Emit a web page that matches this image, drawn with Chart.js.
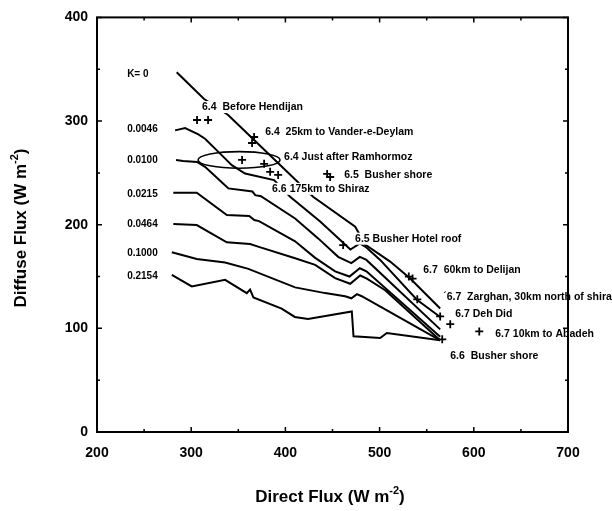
<!DOCTYPE html>
<html>
<head>
<meta charset="utf-8">
<script src="https://cdn.jsdelivr.net/npm/chart.js@4"></script>
<style>
  html, body { margin: 0; padding: 0; background: #fff; }
  canvas { display: block; }
</style>
</head>
<body>
<canvas id="fluxChart" width="612" height="511"></canvas>
<script>
// K label text and where it sits (direct, diffuse)
const kLabels = ['K= 0', '0.0046', '0.0100', '0.0215', '0.0464', '0.1000', '0.2154'];
const kLabelPos = [[232, 345], [232, 292], [232, 262.5], [232, 229], [232, 200], [232, 172], [232, 150]];

// model curves, [direct, diffuse] in W m-2
const curveK0 = [[284.6, 347], [313.7, 321.2], [339.2, 305.8], [366.8, 281.7], [429.4, 226.9],
  [474.1, 198.1], [484.7, 180.8], [511.2, 164.4], [532.5, 148.1], [564.3, 119.2]];
const curveK0046 = [[282.9, 291], [293.5, 293.3], [307.6, 287.2], [314.7, 283], [330.7, 268.6],
  [343.1, 257.4], [357.2, 249.3], [388, 243], [405, 227], [436.9, 203], [459.9, 183.7],
  [469, 176], [479, 182], [486, 178], [500.6, 166], [539.6, 127.6], [564.3, 111]];
const curveK0100 = [[283.9, 262.5], [291.4, 261.5], [306.2, 260.6], [314.7, 255.8], [333, 240.5],
  [339.5, 235], [365, 232], [368, 228.5], [374, 227.5], [410.3, 206], [434.8, 186.8],
  [456, 169], [470, 163], [479, 169], [486, 166], [564.3, 99]];
const curveK0215 = [[281, 230.8], [305.9, 230.8], [337.8, 209.3], [361.6, 208.4], [367, 204.5],
  [372, 203.5], [410.3, 184], [431.6, 168], [452.8, 155], [468, 150], [479, 158], [486, 155],
  [564.3, 92]];
const curveK0464 = [[281, 200.7], [305.9, 199.7], [337.8, 183], [362.5, 181.4], [371, 178.8],
  [410.3, 167.6], [431.6, 161.3], [452.8, 148.4], [468.8, 143], [479.4, 151], [486.5, 148],
  [505.9, 136.8], [564.3, 88.5]];
const curveK1000 = [[279.4, 173.4], [305.9, 167], [336, 163.5], [360.7, 157.4], [410.3, 139.5],
  [442.2, 134], [463.4, 131], [470, 129], [476, 133], [481, 131], [564.3, 88.5]];
const curveK2154 = [[279.4, 151.6], [300.6, 140.4], [336, 146.8], [359, 134], [362.5, 137.5],
  [366, 129.8], [396, 119], [410, 111], [424, 109], [470.5, 116.3], [472.3, 92.3],
  [500.6, 90.7], [507.7, 95.5], [564.3, 88.5]];

// measured fluxes along the route
const sites = [[306.2, 301], [317.9, 301], [366.8, 284.6], [364.6, 278.8], [354, 262.5],
  [377.4, 258.7], [383.8, 251], [392.3, 248], [444.3, 249], [447.5, 246], [461.3, 180.3],
  [531, 150], [535, 148], [540, 128], [564.3, 111.5], [575, 104], [605.8, 97], [566.5, 89.4]];

const siteLabels = ['6.4  Before Hendijan', '6.4  25km to Vander-e-Deylam', '6.4 Just after Ramhormoz',
  '6.5  Busher shore', '6.6 175km to Shiraz', '6.5 Busher Hotel roof', '6.7  60km to Delijan',
  '\u02CA6.7  Zarghan, 30km north of shiraz', '6.7 Deh Did', '6.7 10km to Abadeh', '6.6  Busher shore'];
const siteLabelPos = [[311.5, 313.5], [378.5, 289.4], [398.6, 265.4], [462.4, 248], [385.9, 234.6],
  [474, 186.5], [546.3, 155.8], [567.5, 129.8], [580.3, 113.5], [622.8, 94.2], [575, 73.1]];

// ellipse round the Ramhormoz points: centre x, centre y, half-width, half-height
const ringShape = [350.8, 262.5, 43.5, 8];

const xTicks = [200, 300, 400, 500, 600, 700];
const yTicks = [0, 100, 200, 300, 400];
const xMinor = [250, 350, 450, 550, 650];
const yMinor = [50, 150, 250, 350];

const LABEL_FONT = 'bold 10.5px "Liberation Sans", Arial, sans-serif';
const K_FONT = 'bold 10px "Liberation Sans", Arial, sans-serif';
const TITLE_FONT = 'bold 17px "Liberation Sans", Arial, sans-serif';
const SUP_FONT = 'bold 11px "Liberation Sans", Arial, sans-serif';

function toPoints(arr) {
  return arr.map(p => ({ x: p[0], y: p[1] }));
}

const curves = [curveK0, curveK0046, curveK0100, curveK0215, curveK0464, curveK1000, curveK2154];

const datasets = [{
  label: 'sites',
  data: toPoints(sites),
  showLine: false,
  pointStyle: 'cross',
  pointRadius: 4,
  borderWidth: 1.8,
  borderColor: '#000'
}];
curves.forEach((c, i) => {
  datasets.push({
    label: kLabels[i],
    data: toPoints(c),
    showLine: true,
    pointRadius: 0,
    borderWidth: 2,
    borderColor: '#000',
    tension: 0
  });
});

// text with a raised "-2"
function drawUnitTitle(ctx, head, sup, tail, cx, cy, rotate) {
  ctx.save();
  ctx.translate(cx, cy);
  if (rotate) ctx.rotate(-Math.PI / 2);
  ctx.fillStyle = '#000';
  ctx.textBaseline = 'middle';
  ctx.textAlign = 'left';
  ctx.font = TITLE_FONT;
  const w1 = ctx.measureText(head).width;
  const w3 = ctx.measureText(tail).width;
  ctx.font = SUP_FONT;
  const w2 = ctx.measureText(sup).width;
  let x = -(w1 + w2 + w3) / 2;
  ctx.font = TITLE_FONT;
  ctx.fillText(head, x, 0);
  x += w1;
  ctx.font = SUP_FONT;
  ctx.fillText(sup, x, -6);
  x += w2;
  ctx.font = TITLE_FONT;
  ctx.fillText(tail, x, 0);
  ctx.restore();
}

const annotations = {
  id: 'annotations',
  afterDatasetDraw(chart, args) {
    if (args.index !== 1) return;
    const { ctx, scales: { x, y } } = chart;
    ctx.save();

    // ellipse
    const [ex, ey, rx, ry] = ringShape;
    const cx = x.getPixelForValue(ex), cy = y.getPixelForValue(ey);
    const pw = x.getPixelForValue(ex + rx) - cx;
    const ph = cy - y.getPixelForValue(ey + ry);
    ctx.beginPath();
    ctx.ellipse(cx, cy, pw, ph, 0, 0, Math.PI * 2);
    ctx.lineWidth = 1.6;
    ctx.strokeStyle = '#000';
    ctx.stroke();

    ctx.textBaseline = 'middle';
    ctx.textAlign = 'left';
    const put = (text, pos, box) => {
      const px = x.getPixelForValue(pos[0]);
      const py = y.getPixelForValue(pos[1]);
      if (box) {
        const w = ctx.measureText(text).width;
        ctx.fillStyle = '#fff';
        ctx.fillRect(px - 1, py - 6, w + 2, 12);
      }
      ctx.fillStyle = '#000';
      ctx.fillText(text, px, py);
    };
    ctx.font = K_FONT;
    kLabels.forEach((t, i) => put(t, kLabelPos[i], false));
    ctx.font = LABEL_FONT;
    siteLabels.forEach((t, i) => put(t, siteLabelPos[i], true));
    ctx.restore();
  },
  afterDraw(chart) {
    const { ctx, chartArea: a, scales: { x, y } } = chart;
    ctx.save();
    ctx.strokeStyle = '#000';
    ctx.lineWidth = 2;
    ctx.strokeRect(a.left, a.top, a.right - a.left, a.bottom - a.top);

    // inward tick marks
    ctx.lineWidth = 1.5;
    ctx.beginPath();
    xTicks.forEach(v => { const p = x.getPixelForValue(v); ctx.moveTo(p, a.bottom); ctx.lineTo(p, a.bottom - 5); ctx.moveTo(p, a.top); ctx.lineTo(p, a.top + 5); });
    xMinor.forEach(v => { const p = x.getPixelForValue(v); ctx.moveTo(p, a.bottom); ctx.lineTo(p, a.bottom - 3); ctx.moveTo(p, a.top); ctx.lineTo(p, a.top + 3); });
    yTicks.forEach(v => { const p = y.getPixelForValue(v); ctx.moveTo(a.left, p); ctx.lineTo(a.left + 5, p); ctx.moveTo(a.right, p); ctx.lineTo(a.right - 5, p); });
    yMinor.forEach(v => { const p = y.getPixelForValue(v); ctx.moveTo(a.left, p); ctx.lineTo(a.left + 3, p); ctx.moveTo(a.right, p); ctx.lineTo(a.right - 3, p); });
    ctx.stroke();
    ctx.restore();

    drawUnitTitle(ctx, 'Diffuse Flux (W m', '-2', ')', 21, 228, true);
    drawUnitTitle(ctx, 'Direct Flux (W m', '-2', ')', 330, 497, false);
  }
};

const tickFont = { family: '"Liberation Sans", Arial, sans-serif', size: 14, weight: 'bold' };

new Chart(document.getElementById('fluxChart'), {
  type: 'scatter',
  data: { datasets: datasets },
  options: {
    responsive: false,
    animation: false,
    devicePixelRatio: 1,
    layout: { padding: { left: 0, right: 44, top: 15, bottom: 0 } },
    plugins: { legend: { display: false }, tooltip: { enabled: false } },
    scales: {
      x: {
        type: 'linear', min: 200, max: 700,
        grid: { display: false, drawTicks: false },
        border: { display: false },
        ticks: { stepSize: 100, padding: 13, color: '#000', font: tickFont },
        afterFit(s) { s.height = 79; }
      },
      y: {
        type: 'linear', min: 0, max: 400,
        grid: { display: false, drawTicks: false },
        border: { display: false },
        ticks: { stepSize: 100, padding: 9, color: '#000', font: tickFont },
        afterFit(s) { s.width = 97; }
      }
    }
  },
  plugins: [annotations]
});
</script>
</body>
</html>
